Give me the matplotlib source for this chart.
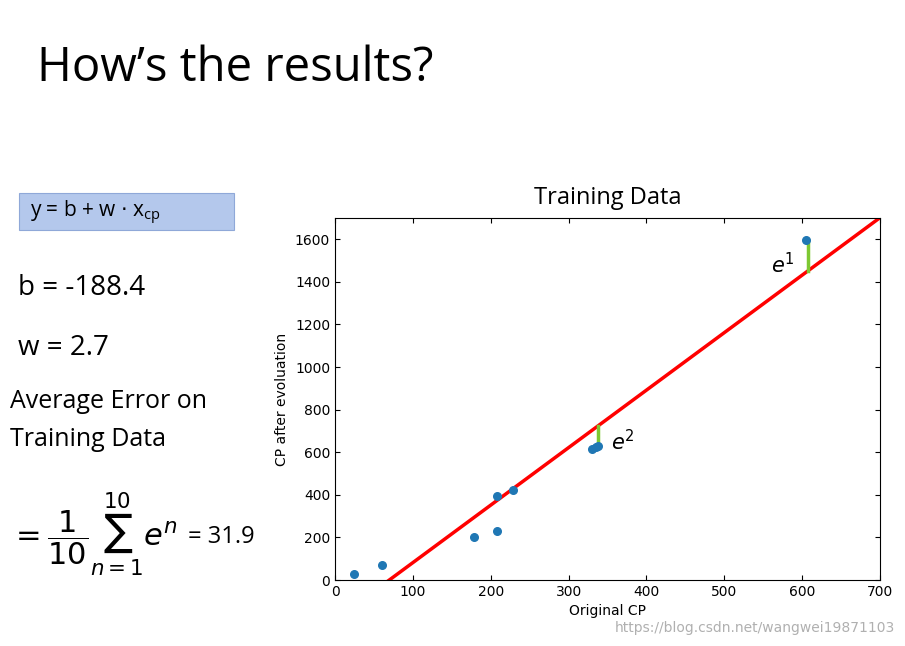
import matplotlib.pyplot as plt
import numpy as np

x_cp = [25, 60, 178, 208, 208, 228, 330, 335, 338, 605]
y_cp = [30, 70, 200, 230, 395, 425, 615, 625, 630, 1595]
b = -188.4
w = 2.7
err_x = [607, 338]
err_y = [1595, 630]
err_lbl = ['$e^1$', '$e^2$']

fig = plt.figure(figsize=(9.05, 6.46), dpi=100)
fig.text(37/905, 1-68/646, 'How\u2019s the results?', fontsize=34, va='center', family='Open Sans')

# formula box
fig.patches.append(plt.Rectangle((19/905, 1-230/646), 215/905, 37/646, transform=fig.transFigure,
                                 facecolor='#b4c8ec', edgecolor='#8fa8d8', lw=0.8))
fig.text(30/905, 1-213/646, r'y = b + w $\cdot$ x$_{\mathregular{cp}}$', fontsize=15, va='center', family='Open Sans')
fig.text(18/905, 1-288/646, 'b = -188.4', fontsize=20, va='center', family='Open Sans')
fig.text(18/905, 1-348/646, 'w = 2.7', fontsize=20, va='center', family='Open Sans')
fig.text(10/905, 1-402/646, 'Average Error on', fontsize=18, va='center', family='Open Sans')
fig.text(10/905, 1-439/646, 'Training Data', fontsize=18, va='center', family='Open Sans')
fig.text(10/905, 1-535/646, r'$=\dfrac{1}{10}\sum_{n=1}^{10}e^n$', fontsize=22, va='center')
fig.text(188/905, 1-537/646, '= 31.9', fontsize=17, va='center', family='Open Sans')

ax = fig.add_axes([335/905, 66/646, 545/905, 362/646])
xs = np.array([0, 700])
ax.plot(xs, b + w * xs, color='red', lw=2.5)
for ex, ey, lb in zip(err_x, err_y, err_lbl):
    ax.plot([ex, ex], [b + w * ex, ey], color='#7dc832', lw=2.5)
ax.scatter(x_cp, y_cp, color='#1f77b4', s=30, zorder=3)
ax.text(590, 1480, err_lbl[0], fontsize=15, ha='right', va='center')
ax.text(355, 650, err_lbl[1], fontsize=15, ha='left', va='center')
ax.set_xlim(0, 700)
ax.set_ylim(0, 1700)
ax.set_xticks(range(0, 701, 100))
ax.set_yticks(range(0, 1601, 200))
ax.tick_params(direction='in', top=True, right=True, labelsize=10)
ax.set_title('Training Data', fontsize=17, family='Open Sans', pad=10)
ax.set_xlabel('Original CP', fontsize=10)
ax.set_ylabel('CP after evoluation', fontsize=10)
fig.text(895/905, 1-628/646, 'https://blog.csdn.net/wangwei19871103', fontsize=10, color='#b0b0b0', ha='right', va='center')

fig.savefig('out.png')
